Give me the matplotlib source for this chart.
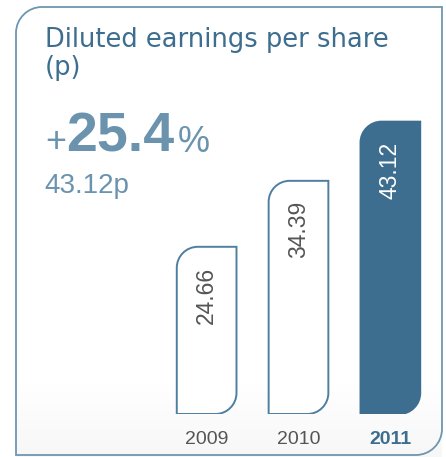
import numpy as np
import matplotlib
matplotlib.use("Agg")
from matplotlib import pyplot as plt
from matplotlib.path import Path
from matplotlib.patches import PathPatch

# data
years = ["2009", "2010", "2011"]
eps = [24.66, 34.39, 43.12]
eps_labels = ["24.66", "34.39", "43.12"]
title = "Diluted earnings per share\n(p)"
growth = "25.4"
latest = "43.12p"

W, H = 446, 457
dark = "#3d6e8f"
light = "#6b93ae"
edge = "#4f7f9f"
grey = "#555555"
num_font = "Liberation Sans"

fig = plt.figure(figsize=(W / 100, H / 100), dpi=100)
fig.patch.set_facecolor("white")

# background axes in pixel units, used for the panel frame and shading
bg = fig.add_axes([0, 0, 1, 1])
bg.set_xlim(0, W)
bg.set_ylim(H, 0)
bg.axis("off")

grad = np.linspace(0, 1, 100).reshape(-1, 1)
grad = np.clip((grad - 0.82) / 0.18, 0, 1) * 0.035
bg.imshow(1 - grad, cmap="gray", vmin=0, vmax=1, extent=[16, 442, H, 0],
          aspect="auto", zorder=0)

k = 0.5523


def leaf_path(x0, x1, y0, y1, rx, ry, down=False):
    # rectangle with top-left and bottom-right corners rounded
    # (y0 = bottom, y1 = top in the axis' own direction)
    s = -1 if down else 1
    verts = [
        (x0, y0),
        (x0, y1 - s * ry),
        (x0, y1 - s * ry * (1 - k)), (x0 + rx * (1 - k), y1), (x0 + rx, y1),
        (x1, y1),
        (x1, y0 + s * ry),
        (x1, y0 + s * ry * (1 - k)), (x1 - rx * (1 - k), y0), (x1 - rx, y0),
        (x0, y0),
    ]
    codes = [Path.MOVETO, Path.LINETO,
             Path.CURVE4, Path.CURVE4, Path.CURVE4,
             Path.LINETO, Path.LINETO,
             Path.CURVE4, Path.CURVE4, Path.CURVE4,
             Path.CLOSEPOLY]
    return Path(verts, codes)


frame = leaf_path(16, 442, 455, 7, 26, 26, down=True)
bg.add_patch(PathPatch(frame, facecolor="none", edgecolor="#6f96b0", lw=1.3, zorder=1))

# texts
fig.text(45 / W, 1 - 27 / H, title, color=dark, fontsize=18.5, va="top", ha="left",
         family="DejaVu Sans", linespacing=1.08)
fig.text(45 / W, 1 - 152 / H, "+", color=light, fontsize=26, va="baseline", ha="left",
         family=num_font)
fig.text(66 / W, 1 - 152 / H, growth, color=light, fontsize=40, va="baseline", ha="left",
         family=num_font, fontweight="bold")
fig.text(178 / W, 1 - 152 / H, "%", color=light, fontsize=26, va="baseline", ha="left",
         family=num_font)
fig.text(44 / W, 1 - 193 / H, latest, color=light, fontsize=20, va="baseline", ha="left",
         family=num_font)

# bar axes: baseline at y=414px, 6.78 px per unit
ymax = 45
top_px = 414 - ymax * 6.78
ax = fig.add_axes([160.7 / W, (H - 414) / H, 275.6 / W, (414 - top_px) / H])
ax.set_xlim(-0.5, 2.5)
ax.set_ylim(0, ymax)
ax.patch.set_alpha(0)
for s in ax.spines.values():
    s.set_visible(False)
ax.set_yticks([])

bw = 0.65
rx = 21 / 92.0
ry = 21 / 6.78
for i, v in enumerate(eps):
    last = i == len(eps) - 1
    p = leaf_path(i - bw / 2, i + bw / 2, 0, v, rx, ry)
    ax.add_patch(PathPatch(p, facecolor=dark if last else "white",
                           edgecolor=dark if last else edge, lw=1.4, zorder=2))
    ax.text(i, v - 20 / 6.78, eps_labels[i], rotation=90, ha="center", va="top",
            fontsize=16.5, family=num_font, color="white" if last else grey, zorder=3)

ax.set_xticks(range(len(years)))
ax.set_xticklabels(years, fontsize=14, family=num_font, color=grey)
ax.tick_params(axis="x", length=0, pad=12)
lab = ax.get_xticklabels()[-1]
lab.set_fontweight("bold")
lab.set_color(dark)

plt.savefig("out.png", dpi=100)
